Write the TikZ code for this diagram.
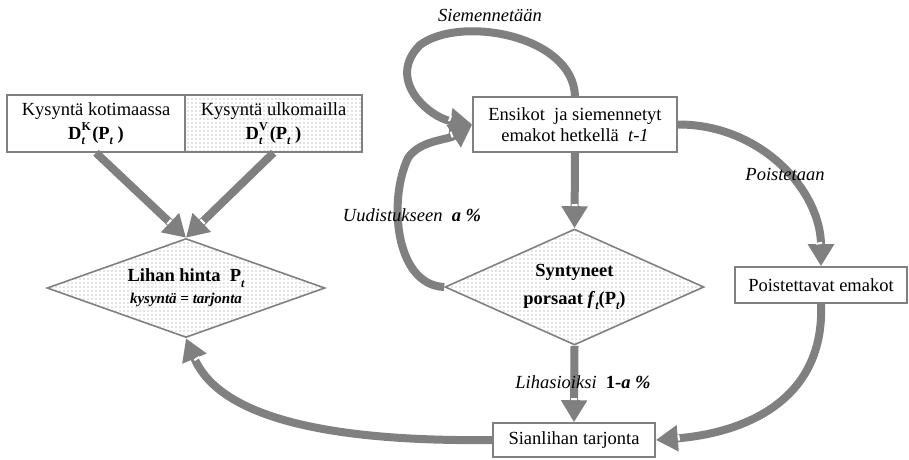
\documentclass[tikz,border=0pt]{standalone}
\usepackage{fontspec}
\setmainfont{Liberation Serif}
\usepackage{tikz}
\usetikzlibrary{arrows.meta}
\usetikzlibrary{patterns}
\usetikzlibrary{shapes.geometric}
\usetikzlibrary{decorations.markings}

\definecolor{viiva}{RGB}{128,128,128}
\newcommand{\pieni}{\fontsize{12}{12}\selectfont}
\newcommand{\yla}[2]{\rlap{\raisebox{0.45em}{\pieni #1}}\raisebox{-0.3em}{\pieni\itshape #2}\hspace{0.4em}}
\newcommand{\ala}[1]{\raisebox{-0.3em}{\pieni\itshape #1}}

\pgfdeclarepatternformonly{harvat}{\pgfqpoint{-1pt}{-1pt}}{\pgfqpoint{1pt}{1pt}}{\pgfqpoint{4pt}{4pt}}{%
  \pgfpathcircle{\pgfqpoint{0pt}{0pt}}{0.6pt}\pgfusepath{fill}}

\tikzset{
laatikko/.style={draw=viiva, line width=1.6pt, inner sep=0pt, align=center, font=\fontsize{18.5}{24}\selectfont},
pisteet/.style={pattern=harvat, pattern color=black!45},
salmiakki/.style={diamond, draw=viiva, line width=1.6pt, inner sep=0pt, align=center, pisteet},
nuoli/.style={draw=viiva, line width=8pt, -{Triangle[length=22pt,width=25pt]},
  postaction={decorate, decoration={markings, mark=at position -23pt with {\fill[white] (-1pt,-3pt) rectangle (1pt,3pt);}}}},
selite/.style={font=\fontsize{18.5}{22}\selectfont\itshape}
}

\begin{document}
\begin{tikzpicture}[x=1pt, y=-1pt]

\useasboundingbox (0,0) rectangle (909,459);

\node[laatikko, minimum width=178pt, minimum height=57pt] (kotimaa) at (96,123.5) {Kysyntä kotimaassa\\ \textbf{D\yla{K}{t}(P\ala{t} )}};
\node[laatikko, pisteet, minimum width=177pt, minimum height=57pt] (ulkomaa) at (273.5,123.5) {Kysyntä ulkomailla\\ \textbf{D\yla{V}{t}(P\ala{t} )}};
\node[laatikko, minimum width=204pt, minimum height=55pt, font=\fontsize{18.5}{21}\selectfont] (ensikot) at (575,124.5) {Ensikot\ \ ja siemennetyt\\ emakot hetkellä\ \ \textit{t-1}};

\node[salmiakki, shape aspect=2.8, minimum width=278pt, minimum height=99pt, font=\fontsize{18.5}{22}\selectfont\bfseries] (lihan) at (186,288) {Lihan hinta\ \ P\ala{t}\\ {\fontsize{15}{15}\selectfont\itshape kysyntä = tarjonta}};
\node[salmiakki, shape aspect=2.23, minimum width=259pt, minimum height=116pt, font=\fontsize{18.5}{28}\selectfont\bfseries] (syntyneet) at (574.5,287) {Syntyneet\\ porsaat \textit{f}\ala{t}(P\ala{t})};

\node[laatikko, minimum width=172pt, minimum height=36pt] (poistettavat) at (821,285) {Poistettavat emakot};
\node[laatikko, minimum width=162pt, minimum height=34pt] (sianliha) at (574,440) {Sianlihan tarjonta};

\draw[nuoli] (kotimaa.south) -- (lihan.north);
\draw[nuoli] (ulkomaa.south) -- (lihan.north);
\draw[nuoli] (ensikot.south) -- (syntyneet.north);
\draw[nuoli] (syntyneet.south) -- (sianliha.north);

\draw[nuoli] (ensikot.north) .. controls (573,35) and (460,15) .. (420,45) .. controls (385,80) and (430,118) .. (ensikot.west);
\draw[nuoli] (syntyneet.west) .. controls (395,285) and (388,200) .. (408,158) .. controls (420,140) and (448,140) .. (ensikot.west);
\draw[nuoli] (ensikot.east) .. controls (760,124) and (821,190) .. (poistettavat.north);
\draw[nuoli] (poistettavat.south) .. controls (825,400) and (745,433) .. (sianliha.east);
\draw[nuoli] (sianliha.west) .. controls (320,442) and (218,415) .. (lihan.south);

\node[selite] (siemennys) at (490,15) {Siemennetään};
\node[selite] (uudistus) at (412,215) {Uudistukseen\ \ \textbf{a \%}};
\node[selite] (poisto) at (785,174) {Poistetaan};
\node[selite] (lihasiat) at (583,382) {Lihasioiksi\ \ \textbf{\upshape 1-}\textbf{a \%}};

\end{tikzpicture}
\end{document}
